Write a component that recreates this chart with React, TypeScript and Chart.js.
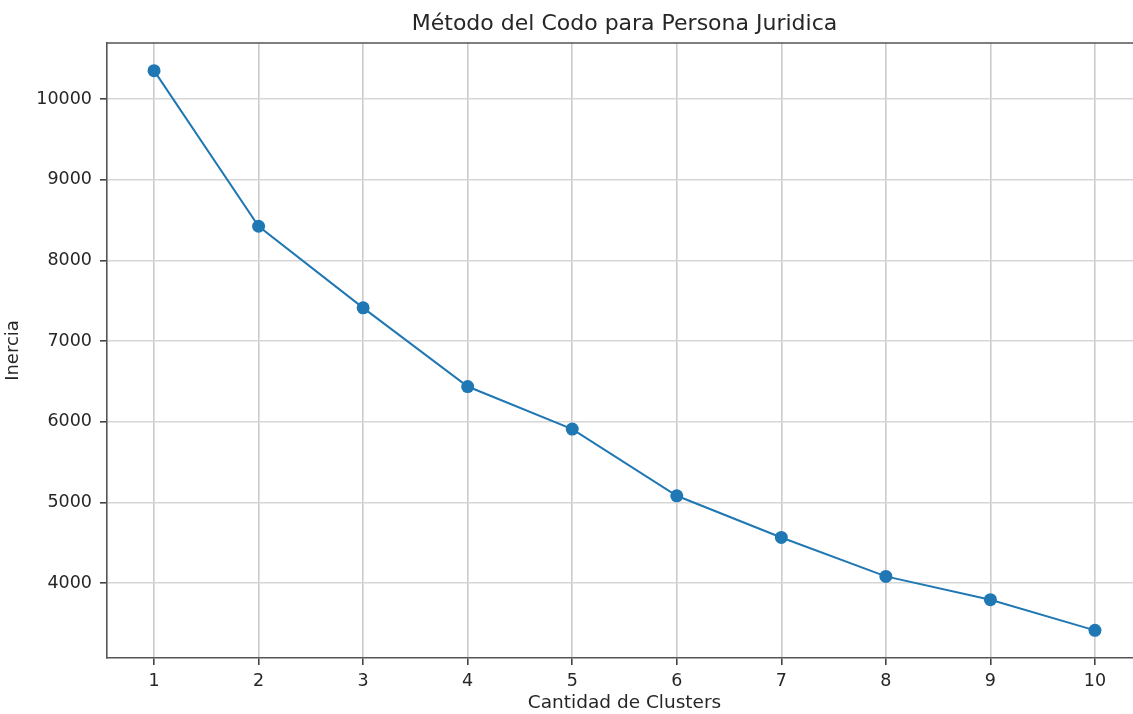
import React, { useEffect, useRef } from "react";
import { Chart, registerables } from "chart.js";

Chart.register(...registerables);

const clusters = [1, 2, 3, 4, 5, 6, 7, 8, 9, 10];
const inercia = [10355, 8425, 7413, 6437, 5909, 5082, 4565, 4082, 3793, 3413];
const xTicks = [1, 2, 3, 4, 5, 6, 7, 8, 9, 10];
const yTicks = [4000, 5000, 6000, 7000, 8000, 9000, 10000];

const TITLE = "Método del Codo para Persona Juridica";
const X_LABEL = "Cantidad de Clusters";
const Y_LABEL = "Inercia";

const FONT = "'DejaVu Sans', sans-serif";
const TEXT = "#262626";

const framePlugin = {
  id: "frame",
  afterDraw(chart: any) {
    const { ctx, chartArea } = chart;
    ctx.save();
    ctx.strokeStyle = "#555555";
    ctx.lineWidth = 1.6;
    ctx.beginPath();
    ctx.moveTo(chartArea.left, chartArea.top);
    ctx.lineTo(chartArea.right, chartArea.top);
    ctx.stroke();
    ctx.restore();
  },
};

export default function App() {
  const ref = useRef<HTMLCanvasElement | null>(null);

  useEffect(() => {
    if (!ref.current) return;
    const chart = new Chart(ref.current, {
      type: "line",
      data: {
        datasets: [
          {
            data: clusters.map((c, i) => ({ x: c, y: inercia[i] })),
            borderColor: "#1f77b4",
            backgroundColor: "#1f77b4",
            borderWidth: 2,
            pointRadius: 6.5,
            pointBorderWidth: 0,
            pointBackgroundColor: "#1f77b4",
            tension: 0,
          },
        ],
      },
      options: {
        responsive: false,
        animation: false,
        layout: { padding: { left: 0, top: 0, right: 107, bottom: 0 } },
        plugins: {
          legend: { display: false },
          tooltip: { enabled: false },
          title: {
            display: true,
            fullSize: false,
            text: TITLE,
            color: TEXT,
            font: { family: FONT, size: 22, weight: "normal" },
            padding: { top: 11, bottom: 5.6 },
          },
        },
        scales: {
          x: {
            type: "linear",
            min: 0.55,
            max: 10.45,
            afterBuildTicks: (scale: any) => {
              scale.ticks = xTicks.map((v) => ({ value: v }));
            },
            afterFit: (scale: any) => {
              scale.height = 56;
            },
            ticks: {
              color: TEXT,
              font: { family: FONT, size: 17.5 },
              padding: 6,
              autoSkip: false,
              maxRotation: 0,
              callback: (v: any) => String(v),
            },
            grid: {
              color: "#cbcbcb",
              lineWidth: 1.6,
              tickColor: "#444444",
              tickLength: 7,
            },
            border: { display: true, color: "#555555", width: 1.6 },
            title: {
              display: true,
              text: X_LABEL,
              color: TEXT,
              font: { family: FONT, size: 18.5 },
              padding: { top: 0, bottom: 0 },
            },
          },
          y: {
            type: "linear",
            min: 3070,
            max: 10698,
            afterBuildTicks: (scale: any) => {
              scale.ticks = yTicks.map((v) => ({ value: v }));
            },
            afterFit: (scale: any) => {
              scale.width = 107;
            },
            ticks: {
              color: TEXT,
              font: { family: FONT, size: 17.5 },
              padding: 8,
              autoSkip: false,
              callback: (v: any) => String(v),
            },
            grid: {
              color: "#d6d6d6",
              lineWidth: 1.6,
              tickColor: "#444444",
              tickLength: 7,
            },
            border: { display: true, color: "#555555", width: 1.6 },
            title: {
              display: true,
              text: Y_LABEL,
              color: TEXT,
              font: { family: FONT, size: 18 },
              padding: { top: 3, bottom: 0 },
            },
          },
        },
      },
      plugins: [framePlugin],
    });
    return () => chart.destroy();
  }, []);

  return (
    <div
      style={{
        position: "fixed",
        left: 0,
        top: 0,
        width: 1133,
        height: 714,
        overflow: "hidden",
        background: "#ffffff",
      }}
    >
      <canvas ref={ref} width={1249} height={714} style={{ display: "block" }} />
    </div>
  );
}
